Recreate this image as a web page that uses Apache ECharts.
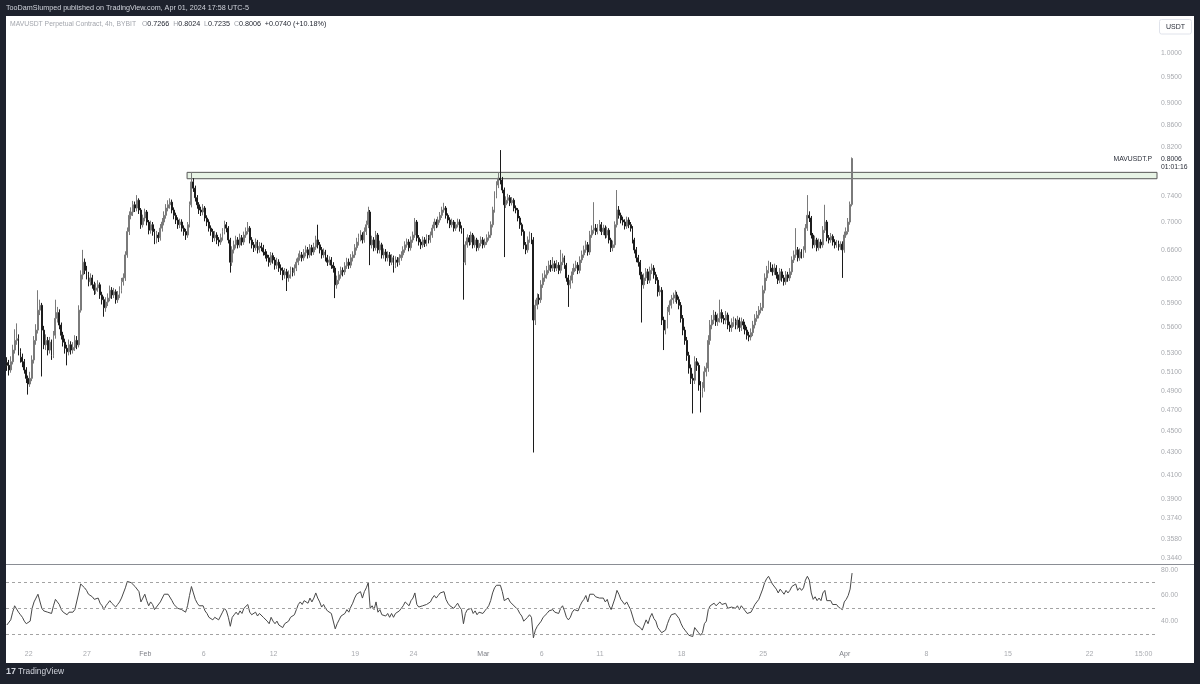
<!DOCTYPE html>
<html>
<head>
<meta charset="utf-8">
<title>MAVUSDT.P 4h</title>
<script src="https://cdn.jsdelivr.net/npm/echarts@6.0.0/dist/echarts.min.js"></script>
<style>
  html, body { margin: 0; padding: 0; background: #1e222d; }
  #chart { width: 1200px; height: 684px; }
</style>
</head>
<body>
<div id="chart"></div>
<script>
// 4h candles, Jan 20 03:00 -> Apr 1 15:00 (chart time UTC-5)
// open of each candle = close of the one before (perpetual, no gaps)
const firstOpen = 0.520;
const closes = [
  .517,.512,.521,.534,.545,.547,.532,.526,.521,.512,
  .503,.497,.503,.523,.545,.557,.581,.587,.557,.540,
  .545,.534,.543,.528,.551,.571,.578,.563,.551,.543,
  .536,.532,.540,.534,.537,.545,.540,.581,.626,.643,
  .632,.626,.617,.622,.613,.606,.609,.613,.600,.594,
  .584,.591,.596,.606,.600,.604,.594,.600,.606,.617,
  .622,.653,.686,.710,.715,.726,.721,.733,.718,.696,
  .706,.715,.700,.688,.696,.686,.674,.681,.677,.691,
  .700,.710,.721,.726,.730,.718,.710,.703,.696,.700,
  .691,.686,.681,.696,.726,.762,.752,.737,.726,.718,
  .715,.721,.706,.700,.691,.686,.677,.681,.674,.671,
  .677,.686,.696,.691,.674,.643,.660,.667,.674,.667,
  .677,.671,.681,.686,.691,.674,.667,.663,.671,.660,
  .665,.663,.657,.653,.649,.643,.652,.646,.639,.643,
  .635,.632,.626,.630,.622,.626,.632,.629,.635,.643,
  .649,.653,.649,.656,.660,.653,.663,.657,.664,.674,
  .667,.660,.653,.657,.649,.643,.646,.639,.635,.613,
  .619,.626,.632,.630,.638,.643,.639,.649,.653,.663,
  .671,.677,.681,.674,.686,.696,.715,.667,.674,.663,
  .681,.660,.667,.653,.657,.649,.653,.643,.649,.639,
  .646,.643,.649,.653,.660,.667,.671,.663,.674,.681,
  .700,.677,.671,.667,.674,.669,.677,.674,.681,.691,
  .700,.696,.703,.710,.718,.721,.710,.703,.696,.700,
  .691,.696,.700,.691,.688,.643,.667,.677,.671,.681,
  .667,.674,.663,.669,.674,.667,.671,.677,.681,.696,
  .718,.741,.757,.768,.765,.749,.726,.733,.737,.729,
  .733,.721,.718,.706,.696,.686,.667,.660,.674,.681,
  .674,.569,.587,.596,.594,.613,.622,.626,.632,.639,
  .635,.641,.635,.639,.632,.643,.649,.639,.622,.613,
  .619,.630,.635,.639,.632,.646,.653,.660,.667,.657,
  .681,.688,.691,.686,.691,.696,.686,.691,.681,.688,
  .674,.663,.667,.696,.718,.710,.703,.700,.694,.703,
  .696,.691,.674,.660,.649,.643,.626,.613,.622,.630,
  .619,.632,.635,.626,.619,.604,.606,.569,.557,.563,
  .579,.587,.594,.596,.600,.594,.587,.571,.557,.545,
  .528,.514,.503,.501,.521,.517,.496,.489,.493,.510,
  .514,.545,.563,.569,.575,.567,.571,.578,.571,.569,
  .575,.563,.560,.566,.567,.563,.569,.560,.567,.563,
  .557,.551,.549,.554,.563,.571,.575,.581,.584,.606,
  .622,.632,.639,.635,.630,.635,.626,.619,.630,.622,
  .617,.626,.622,.630,.646,.653,.660,.649,.657,.653,
  .660,.691,.710,.706,.681,.667,.674,.663,.671,.667,
  .688,.700,.677,.674,.679,.671,.667,.669,.664,.668,
  .660,.681,.686,.700,.7266,.8006
];
const highs = [
  .526,.523,.527,.540,.558,.565,.552,.536,.530,.524,
  .515,.506,.510,.528,.550,.564,.606,.594,.590,.562,
  .552,.549,.549,.546,.556,.594,.585,.582,.566,.555,
  .547,.540,.546,.544,.543,.551,.550,.587,.632,.660,
  .648,.638,.630,.628,.626,.617,.615,.619,.616,.604,
  .598,.597,.602,.612,.610,.609,.607,.605,.611,.622,
  .628,.658,.692,.716,.722,.732,.731,.741,.736,.721,
  .711,.720,.718,.703,.702,.700,.690,.687,.685,.697,
  .706,.716,.727,.733,.736,.734,.722,.714,.707,.705,
  .704,.695,.690,.700,.731,.778,.768,.756,.741,.730,
  .723,.727,.724,.710,.704,.695,.690,.687,.685,.678,
  .683,.691,.702,.700,.694,.677,.665,.673,.680,.678,
  .683,.681,.686,.692,.700,.694,.678,.671,.676,.674,
  .671,.670,.667,.661,.658,.653,.657,.656,.650,.649,
  .647,.640,.636,.635,.634,.632,.637,.636,.640,.648,
  .655,.659,.657,.661,.666,.664,.668,.667,.670,.680,
  .696,.671,.664,.662,.660,.653,.651,.650,.643,.638,
  .625,.631,.637,.636,.643,.649,.648,.654,.658,.668,
  .677,.683,.688,.685,.692,.702,.723,.718,.680,.678,
  .687,.684,.673,.670,.662,.661,.658,.657,.654,.652,
  .651,.650,.654,.658,.665,.672,.676,.675,.679,.686,
  .706,.703,.681,.675,.679,.678,.682,.681,.686,.696,
  .705,.704,.708,.715,.723,.729,.724,.713,.707,.705,
  .703,.700,.705,.704,.695,.691,.672,.682,.681,.686,
  .684,.679,.677,.674,.679,.678,.676,.682,.686,.701,
  .723,.747,.763,.778,.815,.770,.753,.739,.743,.741,
  .738,.736,.725,.721,.709,.699,.689,.671,.679,.686,
  .684,.678,.594,.602,.601,.619,.628,.632,.638,.645,
  .646,.650,.645,.646,.643,.660,.655,.652,.642,.626,
  .625,.635,.641,.645,.643,.651,.659,.666,.673,.671,
  .687,.695,.730,.697,.697,.703,.700,.696,.695,.693,
  .691,.677,.673,.701,.749,.724,.714,.708,.704,.708,
  .707,.700,.694,.677,.664,.653,.646,.630,.628,.635,
  .634,.637,.641,.639,.630,.623,.612,.610,.573,.569,
  .585,.593,.600,.603,.606,.604,.598,.591,.575,.561,
  .549,.532,.518,.508,.527,.525,.520,.500,.499,.516,
  .520,.551,.569,.575,.581,.579,.577,.594,.582,.575,
  .580,.578,.567,.571,.573,.571,.574,.572,.572,.570,
  .567,.561,.555,.559,.568,.576,.580,.586,.590,.612,
  .628,.638,.645,.643,.640,.641,.639,.630,.635,.634,
  .626,.631,.630,.635,.651,.659,.691,.664,.662,.661,
  .665,.697,.741,.716,.709,.684,.680,.677,.676,.675,
  .694,.726,.703,.681,.684,.682,.675,.674,.673,.672,
  .672,.686,.692,.706,.731,.8024
];
const lows = [
  .511,.506,.509,.518,.530,.540,.528,.520,.515,.508,
  .498,.486,.494,.500,.519,.540,.553,.575,.505,.535,
  .534,.528,.530,.523,.525,.547,.566,.558,.546,.538,
  .530,.517,.528,.529,.530,.533,.535,.537,.578,.620,
  .627,.620,.611,.612,.608,.600,.601,.604,.595,.588,
  .573,.579,.586,.592,.595,.596,.589,.590,.596,.602,
  .612,.618,.649,.681,.704,.709,.715,.716,.712,.690,
  .692,.701,.695,.682,.683,.680,.668,.669,.671,.673,
  .686,.695,.705,.716,.720,.713,.704,.697,.690,.691,
  .686,.680,.674,.677,.692,.722,.746,.731,.720,.712,
  .709,.710,.701,.694,.686,.680,.671,.672,.668,.665,
  .667,.673,.682,.685,.669,.629,.638,.655,.662,.662,
  .663,.666,.667,.677,.682,.669,.662,.657,.659,.655,
  .656,.658,.652,.648,.644,.637,.639,.641,.633,.634,
  .630,.626,.619,.621,.605,.617,.621,.624,.625,.631,
  .639,.645,.644,.645,.651,.648,.649,.652,.653,.660,
  .662,.655,.648,.649,.644,.638,.639,.634,.629,.596,
  .608,.614,.621,.624,.626,.634,.634,.635,.644,.649,
  .659,.666,.672,.669,.670,.681,.691,.639,.662,.658,
  .659,.655,.655,.648,.648,.644,.644,.638,.639,.629,
  .635,.637,.639,.645,.649,.656,.663,.658,.659,.670,
  .677,.672,.666,.661,.663,.664,.665,.669,.670,.677,
  .687,.691,.692,.699,.706,.714,.705,.698,.691,.692,
  .686,.687,.692,.686,.683,.594,.639,.663,.666,.667,
  .662,.663,.658,.659,.665,.662,.663,.667,.673,.677,
  .692,.714,.736,.752,.758,.744,.650,.721,.728,.724,
  .725,.716,.713,.701,.690,.680,.661,.654,.656,.670,
  .668,.430,.563,.582,.588,.590,.609,.617,.621,.628,
  .630,.631,.630,.631,.627,.628,.639,.634,.617,.585,
  .608,.615,.626,.631,.627,.628,.642,.649,.656,.652,
  .653,.677,.683,.681,.682,.687,.681,.681,.676,.677,
  .669,.657,.658,.663,.692,.705,.698,.695,.689,.690,
  .691,.686,.669,.655,.643,.637,.620,.566,.608,.618,
  .614,.615,.627,.621,.614,.598,.599,.563,.534,.552,
  .559,.575,.583,.589,.591,.589,.582,.566,.551,.540,
  .522,.508,.497,.467,.497,.511,.490,.468,.483,.489,
  .505,.510,.540,.558,.564,.562,.562,.566,.566,.564,
  .564,.558,.555,.555,.561,.558,.558,.555,.556,.558,
  .552,.546,.544,.545,.550,.559,.567,.571,.577,.580,
  .602,.618,.628,.630,.625,.626,.621,.614,.615,.617,
  .612,.613,.617,.618,.626,.642,.649,.644,.645,.648,
  .649,.656,.687,.700,.676,.662,.663,.658,.659,.662,
  .663,.684,.672,.669,.670,.666,.662,.663,.659,.660,
  .622,.656,.677,.682,.696,.7235
];
// RSI(14)
const rsi = [
  37,38,41,47,52,53,47,45,43,40,
  38,37,40,50,55,58,61,60,50,48,
  49,47,48,46,52,57,55,53,49,47,
  46,45,47,46,47,49,48,62,69,70,
  66,64,61,62,59,57,57,58,54,52,
  49,52,54,56,54,55,51,53,55,58,
  59,66,71,72,70,69,67,68,63,55,
  58,61,56,52,55,53,49,51,50,55,
  58,61,62,61,61,56,53,52,50,51,
  49,48,47,52,60,67,62,57,54,52,
  51,52,48,46,43,42,41,43,42,41,
  44,47,50,48,43,36,43,45,47,45,
  48,46,50,51,53,47,45,44,47,44,
  46,45,43,42,40,38,43,40,38,40,
  37,36,35,38,37,40,43,42,45,49,
  53,55,53,56,57,54,58,55,58,62,
  58,55,51,53,50,48,49,46,45,34,
  38,41,44,43,46,49,47,51,54,58,
  61,62,63,58,63,66,70,50,52,49,
  55,47,49,45,46,44,46,43,46,43,
  46,45,48,50,52,55,56,52,56,58,
  62,53,51,50,52,51,53,52,55,58,
  60,58,60,62,63,63,57,54,52,53,
  50,52,54,51,49,38,46,49,48,50,
  46,48,45,47,48,46,48,50,52,56,
  62,66,68,69,68,63,56,57,58,55,
  56,52,52,49,46,44,40,39,43,45,
  43,27,33,36,36,40,43,44,46,48,
  47,49,47,48,46,50,52,48,43,41,
  43,47,49,50,48,52,55,57,60,55,
  61,62,61,59,60,58,57,58,55,57,
  52,49,50,58,64,61,57,55,53,55,
  52,49,44,39,37,38,35,33,37,41,
  38,43,46,42,40,35,36,31,30,33,
  38,42,45,46,46,44,42,38,35,33,
  31,29,28,28,35,34,31,29,31,38,
  40,49,52,53,54,52,53,55,53,52,
  54,50,49,51,51,50,52,49,52,50,
  48,46,45,47,50,53,55,57,58,65,
  70,73,75,72,69,70,65,62,65,63,
  61,64,62,64,67,68,69,64,66,64,
  66,72,75,72,62,57,59,56,58,56,
  62,64,56,55,56,53,52,53,51,52,
  49,55,57,60,65,77.5
];

const priceTicks = [1.0, 0.95, 0.9, 0.86, 0.82, 0.74, 0.70, 0.66, 0.62, 0.59, 0.56, 0.53,
  0.51, 0.49, 0.47, 0.45, 0.43, 0.41, 0.39, 0.374, 0.358, 0.344];
const rsiTicks = [80, 60, 40];
const rsiLevels = [70, 50, 30];
const dateTicks = [
  ['2024-01-22T00:00', '22'], ['2024-01-27T00:00', '27'], ['2024-02-01T00:00', 'Feb'],
  ['2024-02-06T00:00', '6'], ['2024-02-12T00:00', '12'], ['2024-02-19T00:00', '19'],
  ['2024-02-24T00:00', '24'], ['2024-03-01T00:00', 'Mar'], ['2024-03-06T00:00', '6'],
  ['2024-03-11T00:00', '11'], ['2024-03-18T00:00', '18'], ['2024-03-25T00:00', '25'],
  ['2024-04-01T00:00', 'Apr'], ['2024-04-08T00:00', '8'], ['2024-04-15T00:00', '15'],
  ['2024-04-22T00:00', '22'], ['2024-04-26T15:00', '15:00']
];
// resistance zone drawn on the chart
const zoneStart = '2024-02-04T14:00';
const zoneTop = 0.7775;
const zoneBottom = 0.7671;

const HOUR = 3600 * 1000;
const toMs = s => new Date(s + ':00Z').getTime();
const firstCandle = toMs('2024-01-20T03:00');
const xMin = toMs('2024-01-20T01:15');
const xMax = toMs('2024-04-27T18:45');
const priceMin = 0.3397, priceMax = 1.0821;

const times = closes.map((c, i) => firstCandle + i * 4 * HOUR);
const opens = closes.map((c, i) => (i === 0 ? firstOpen : closes[i - 1]));
const candles = closes.map((c, i) => [times[i], opens[i], c, lows[i], highs[i]]);
const rsiLine = rsi.map((v, i) => [times[i], v]);

const tickMs = dateTicks.map(d => toMs(d[0]));
const tickName = {};
dateTicks.forEach((d, i) => { tickName[tickMs[i]] = d[1]; });

const last = closes.length - 1;
const f4 = v => v.toFixed(4);
const chg = closes[last] - closes[last - 1];
const pct = chg / closes[last - 1] * 100;
const legendText =
  '{t|MAVUSDT Perpetual Contract, 4h, BYBIT}   ' +
  '{k|O}{v|' + f4(opens[last]) + '}  {k|H}{v|' + f4(highs[last]) + '}  ' +
  '{k|L}{v|' + f4(lows[last]) + '}  {k|C}{v|' + f4(closes[last]) + '}  ' +
  '{v|' + (chg >= 0 ? '+' : '') + f4(chg) + ' (' + (pct >= 0 ? '+' : '') + pct.toFixed(2) + '%)}';

const FONT = 'Liberation Sans';
const AXIS_GREY = '#a9abb0';
const CLEAR = 'rgba(0,0,0,0)';

const chart = echarts.init(document.getElementById('chart'), null, { renderer: 'canvas' });

// x axes are plain value axes over epoch ms, so the custom date labels can sit on them
const option = {
  animation: false,
  backgroundColor: '#1e222d',
  textStyle: { fontFamily: FONT },
  grid: [
    { left: 6, top: 16, width: 1151, height: 548 },
    { left: 6, top: 565, width: 1151, height: 80 }
  ],
  xAxis: [
    {
      type: 'value', gridIndex: 0, min: xMin, max: xMax,
      axisLine: { show: false }, axisTick: { show: false },
      axisLabel: { show: false }, splitLine: { show: false }
    },
    {
      type: 'value', gridIndex: 1, min: xMin, max: xMax,
      axisLine: { show: false }, axisTick: { show: false }, splitLine: { show: false },
      axisLabel: {
        customValues: tickMs,
        fontSize: 7, color: AXIS_GREY, margin: 6,
        formatter: v => {
          const s = tickName[v] || '';
          return /^[A-Z]/.test(s) ? '{m|' + s + '}' : s;
        },
        rich: { m: { fontSize: 7, color: '#7d7f86' } }
      }
    }
  ],
  yAxis: [
    {
      // price scale used by the candles
      type: 'log', gridIndex: 0, min: priceMin, max: priceMax, show: false
    },
    {
      // same scale in ln units, only carries TradingView's price labels
      type: 'value', gridIndex: 0, position: 'right',
      min: Math.log(priceMin), max: Math.log(priceMax),
      axisLine: { show: false }, axisTick: { show: false }, splitLine: { show: false },
      axisLabel: {
        customValues: priceTicks.map(Math.log),
        formatter: v => Math.exp(v).toFixed(4),
        fontSize: 6.8, color: AXIS_GREY, margin: 4
      }
    },
    {
      type: 'value', gridIndex: 1, position: 'right', min: 21.4, max: 83.8,
      axisLine: { show: false }, axisTick: { show: false }, splitLine: { show: false },
      axisLabel: {
        customValues: rsiTicks,
        formatter: v => v.toFixed(2),
        fontSize: 6.8, color: AXIS_GREY, margin: 4
      }
    }
  ],
  series: [
    {
      name: 'MAVUSDT.P',
      type: 'candlestick',
      xAxisIndex: 0,
      yAxisIndex: 0,
      data: candles,
      barWidth: 1.4,
      itemStyle: {
        color: '#777777',
        borderColor: '#7a7a7a',
        color0: '#000000',
        borderColor0: '#1c1c1c',
        borderWidth: 1
      },
      markArea: {
        silent: true,
        itemStyle: { color: '#e7f3e5', borderColor: '#575757', borderWidth: 1 },
        data: [[
          { xAxis: toMs(zoneStart), yAxis: zoneTop },
          { xAxis: xMax, yAxis: zoneBottom }
        ]]
      },
      markLine: {
        silent: true,
        symbol: ['none', 'none'],
        lineStyle: { color: CLEAR, width: 0 },
        data: [
          {
            yAxis: closes[last],
            label: {
              show: true, position: 'end', distance: 4, offset: [0, 4],
              formatter: f4(closes[last]) + '\n01:01:16',
              fontSize: 6.8, lineHeight: 8, color: '#2a2e39'
            }
          },
          {
            yAxis: closes[last],
            label: {
              show: true, position: 'insideEnd', distance: 5,
              formatter: 'MAVUSDT.P',
              fontSize: 6.8, color: '#2a2e39'
            }
          }
        ]
      }
    },
    {
      name: 'RSI',
      type: 'line',
      xAxisIndex: 1,
      yAxisIndex: 2,
      data: rsiLine,
      symbol: 'none',
      lineStyle: { color: '#484848', width: 1 },
      markLine: {
        silent: true,
        symbol: ['none', 'none'],
        label: { show: false },
        lineStyle: { type: [3, 3], color: '#a3a3a3', width: 1 },
        data: rsiLevels.map(v => ({ yAxis: v }))
      }
    }
  ],
  graphic: [
    {
      type: 'rect', z: -10, silent: true,
      shape: { x: 6, y: 16, width: 1188, height: 647 },
      style: { fill: '#ffffff' }
    },
    {
      type: 'line', silent: true,
      shape: { x1: 6, y1: 564.5, x2: 1194, y2: 564.5 },
      style: { stroke: '#8a8d94', lineWidth: 1 }
    },
    {
      type: 'rect', silent: true,
      shape: { x: 1159.5, y: 19.5, width: 32, height: 14.5, r: 2 },
      style: { fill: '#ffffff', stroke: '#e0e3eb', lineWidth: 1 }
    },
    {
      type: 'text', silent: true, x: 1175.5, y: 27,
      style: { text: 'USDT', fill: '#2a2e39', fontSize: 7, fontFamily: FONT, align: 'center', verticalAlign: 'middle' }
    },
    {
      type: 'text', silent: true, x: 6, y: 8,
      style: {
        text: 'TooDamSlumped published on TradingView.com, Apr 01, 2024 17:58 UTC-5',
        fill: '#d1d4dc', fontSize: 7.2, fontFamily: FONT, verticalAlign: 'middle'
      }
    },
    {
      type: 'text', silent: true, x: 10, y: 24,
      style: {
        text: legendText, fontSize: 7, fontFamily: FONT, verticalAlign: 'middle',
        rich: {
          t: { fill: '#a3a6ad', fontSize: 6.8, fontFamily: FONT },
          k: { fill: '#a3a6ad', fontSize: 7, fontFamily: FONT },
          v: { fill: '#1e222d', fontSize: 7.2, fontFamily: FONT }
        }
      }
    },
    {
      type: 'text', silent: true, x: 6, y: 672,
      style: { text: '17', fill: '#d1d4dc', fontSize: 9, fontWeight: 'bold', fontFamily: FONT, verticalAlign: 'middle' }
    },
    {
      type: 'text', silent: true, x: 18, y: 672,
      style: { text: 'TradingView', fill: '#d1d4dc', fontSize: 8.4, fontFamily: FONT, verticalAlign: 'middle' }
    }
  ]
};

chart.setOption(option);
</script>
</body>
</html>
